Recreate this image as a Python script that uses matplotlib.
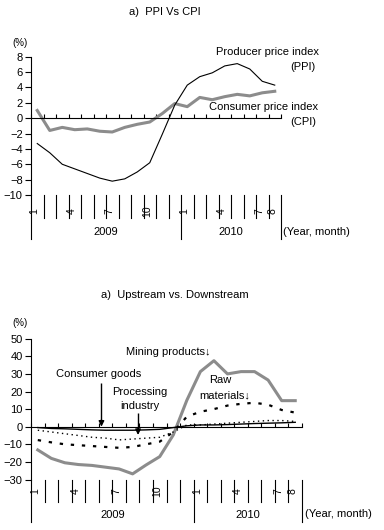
import matplotlib
matplotlib.use('Agg')
import matplotlib.pyplot as plt

plt.rcParams['font.family'] = ['Liberation Sans', 'DejaVu Sans']
plt.rcParams['font.size'] = 8

W, H = 384, 530

months = ['1', '2', '3', '4', '5', '6', '7', '8', '9', '10', '11', '12',
          '1', '2', '3', '4', '5', '6', '7', '8']
shown = [0, 3, 6, 9, 12, 15, 18, 19]
years = ['2009', '2010']

ppi = [-3.3, -4.5, -6.0, -6.6, -7.2, -7.8, -8.2, -7.9, -7.0, -5.8, -2.1, 1.7,
       4.3, 5.4, 5.9, 6.8, 7.1, 6.4, 4.8, 4.3]
cpi = [1.0, -1.6, -1.2, -1.5, -1.4, -1.7, -1.8, -1.2, -0.8, -0.5, 0.6, 1.9,
       1.5, 2.7, 2.4, 2.8, 3.1, 2.9, 3.3, 3.5]

mining = [-13.2, -18.0, -20.5, -21.5, -22.0, -23.0, -24.0, -26.8, -21.7, -17.0,
          -4.7, 15.0, 31.3, 37.5, 30.0, 31.3, 31.3, 26.5, 14.8, 14.8]
raw = [-7.6, -8.9, -10.0, -10.5, -11.0, -11.5, -12.0, -11.5, -10.0, -8.5,
       -3.0, 5.7, 8.5, 10.0, 12.0, 13.0, 13.6, 12.5, 9.5, 8.0]
processing = [-2.0, -3.0, -4.0, -5.0, -6.0, -6.5, -7.5, -7.0, -6.5, -6.0,
              -3.0, 1.0, 1.0, 1.5, 2.0, 2.5, 3.0, 3.5, 3.5, 3.0]
consumer = [-0.5, -1.0, -1.2, -1.5, -1.8, -2.0, -2.0, -2.0, -1.8, -1.5,
            -0.5, 0.5, 1.0, 1.0, 1.2, 1.5, 1.8, 2.0, 2.2, 2.5]

# arrow x position, top, tip (bottom chart labels)
arrows = [(4.7, 25, 0), (7.4, 7.8, -4.7)]

GRAY = '#8c8c8c'


def px(x, y):
    return x / W, 1 - y / H


def make_axes(left, right, top, bottom):
    return fig.add_axes([left / W, 1 - bottom / H, (right - left) / W, (bottom - top) / H])


def category_axis(ax, cat_len, year_len, lab_y, year_y, ym_x, ym_y):
    n = len(months)
    ax.set_xlim(-0.5, n - 0.5)
    for s in ['top', 'right']:
        ax.spines[s].set_visible(False)
    ax.spines['bottom'].set_position(('data', 0))
    ax.set_xticks([i - 0.5 for i in range(n + 1)])
    ax.set_xticklabels([])
    ax.tick_params(axis='x', direction='in', length=3, width=0.8)
    ax.tick_params(axis='y', direction='out', length=4, width=0.8, pad=2, labelsize=8)
    tr = ax.get_xaxis_transform()
    for i in range(n + 1):
        low = -year_len if i in (0, 12, n) else -cat_len
        ax.plot([i - 0.5, i - 0.5], [0, low], color='black', lw=0.8,
                transform=tr, clip_on=False)
    for i in shown:
        ax.text(i - 0.22, lab_y, months[i], rotation=90, transform=tr,
                ha='center', va='center', fontsize=7.5)
    ax.text(5.5, year_y, years[0], transform=tr, ha='center', va='center')
    ax.text(15.5, year_y, years[1], transform=tr, ha='center', va='center')
    fig.text(*px(ym_x, ym_y), '(Year, month)', ha='left', va='center')


fig = plt.figure(figsize=(W / 100, H / 100), dpi=100)
x = list(range(len(months)))

# top chart
ax1 = make_axes(31, 281, 56.7, 195)
ax1.set_ylim(-10, 8)
ax1.set_yticks(range(-10, 9, 2))
ax1.set_yticklabels([str(v).replace('-', '\u2212') for v in range(-10, 9, 2)])
ax1.plot(x, cpi, color=GRAY, lw=2.2)
ax1.plot(x, ppi, color='black', lw=0.8)
category_axis(ax1, 0.166, 0.318, -0.115, -0.27, 283, 232)

fig.text(*px(165, 12), 'a)  PPI Vs CPI', ha='center', va='center')
fig.text(*px(20, 43), '(%)', ha='center', va='center', fontsize=7)
fig.text(*px(267, 52), 'Producer price index', ha='center', va='center')
fig.text(*px(303, 67), '(PPI)', ha='center', va='center')
fig.text(*px(264, 107), 'Consumer price index', ha='center', va='center')
fig.text(*px(303, 122), '(CPI)', ha='center', va='center')

# bottom chart
ax2 = make_axes(31, 302, 338.7, 479.5)
ax2.set_ylim(-30, 50)
ax2.set_yticks(range(-30, 51, 10))
ax2.set_yticklabels([str(v).replace('-', '\u2212') for v in range(-30, 51, 10)])
ax2.plot(x, mining, color=GRAY, lw=2.2)
ax2.plot(x, raw, color='black', lw=1.6, linestyle=(0, (1.5, 3.5)))
ax2.plot(x, processing, color='black', lw=1, linestyle=(0, (1, 2.5)))
ax2.plot(x, consumer, color='black', lw=1)
category_axis(ax2, 0.16, 0.30, -0.085, -0.25, 305, 514)

fig.text(*px(175, 295), 'a)  Upstream vs. Downstream', ha='center', va='center')
fig.text(*px(20, 323), '(%)', ha='center', va='center', fontsize=7)

for xa, y0, y1 in arrows:
    ax2.vlines(xa, y1 + 2, y0, color='black', lw=1, zorder=5)
    ax2.annotate('', xy=(xa, y1), xytext=(xa, y1 + 4),
                 arrowprops=dict(arrowstyle='-|>', color='black', lw=1,
                                 mutation_scale=8, shrinkA=0, shrinkB=0))
ax2.text(4.5, 30, 'Consumer goods', ha='center', va='center')
ax2.text(7.5, 19.7, 'Processing', ha='center', va='center')
ax2.text(7.5, 11.8, 'industry', ha='center', va='center')
ax2.text(9.6, 42.4, 'Mining products\u2193', ha='center', va='center')
ax2.text(13.45, 26.5, 'Raw', ha='center', va='center')
ax2.text(13.8, 18, 'materials\u2193', ha='center', va='center')

fig.savefig('out.png', dpi=100)
